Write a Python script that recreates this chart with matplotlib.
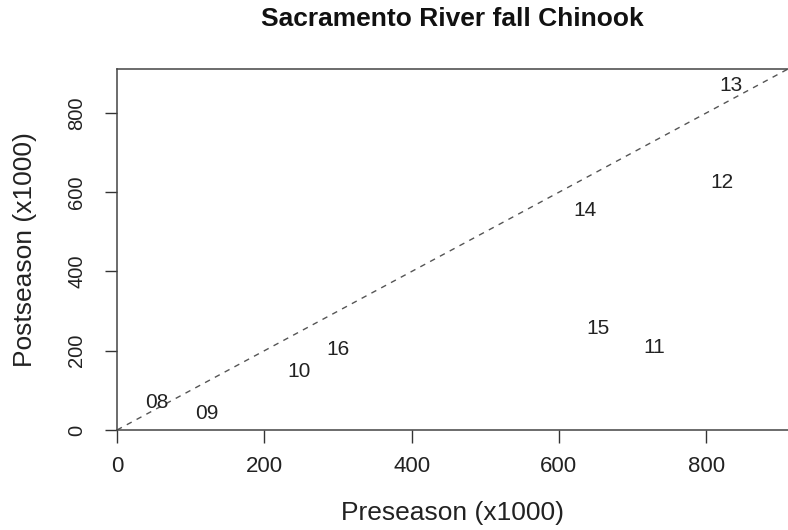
import matplotlib
matplotlib.use("Agg")
import matplotlib.pyplot as plt

plt.rcParams['font.family'] = ['Liberation Sans', 'DejaVu Sans']

# years (labels) and abundance estimates (x1000)
years = ['08', '09', '10', '11', '12', '13', '14', '15', '16']
preseason = [54, 122, 247, 730, 821, 834, 635, 653, 300]
postseason = [69, 42, 148, 209, 625, 869, 555, 257, 204]
ticks = [0, 200, 400, 600, 800]
lim = 911

W, H = 788, 530
fig = plt.figure(figsize=(W / 100, H / 100), dpi=100)
# box: left 117px, top 69px, bottom 430px, right just past the image edge
ax = fig.add_axes([117 / W, (H - 430) / H, (789 - 117) / W, (430 - 69) / H])

for yr, px, py in zip(years, preseason, postseason):
    ax.text(px, py, yr, ha='center', va='center', fontsize=15, color='#222222')

ax.plot([0, lim], [0, lim], linestyle=(0, (4, 4)), color='#555555', lw=1)

ax.set_xlim(0, lim * 672 / 671)
ax.set_ylim(0, lim)
ax.set_xticks(ticks)
ax.set_yticks(ticks)
for s in ax.spines.values():
    s.set_color('#444444')
    s.set_linewidth(1.1)
ax.tick_params(direction='out', length=9, width=1, color='#333333', labelcolor='#222222')
ax.tick_params(axis='x', labelsize=16, pad=10)
ax.tick_params(axis='y', labelsize=14.5, pad=13, labelrotation=90)
for lab in ax.get_yticklabels():
    lab.set_va('center')

ax.set_xlabel('Preseason (x1000)', fontsize=19, color='#222222', va='center')
ax.xaxis.set_label_coords((452 - 117) / 671, -(513 - 430) / 361)
ax.set_ylabel('Postseason (x1000)', fontsize=19, color='#222222', va='center')
ax.yaxis.set_label_coords(-(117 - 25) / 671, 0.5)

fig.text(452 / W, 1 - 19 / H, 'Sacramento River fall Chinook', ha='center', va='center',
         fontsize=19, fontweight='bold', color='#111111')

fig.savefig('out.png', dpi=100)
